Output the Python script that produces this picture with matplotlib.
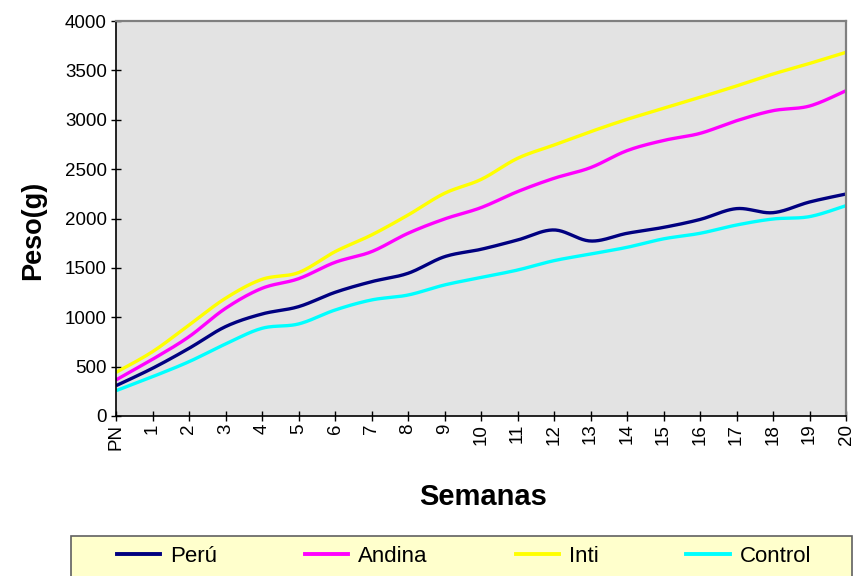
import numpy as np
import matplotlib
matplotlib.use("Agg")
import matplotlib.pyplot as plt
from matplotlib.lines import Line2D
from matplotlib.patches import Rectangle

plt.rcParams["font.family"] = ["Liberation Sans", "DejaVu Sans"]

# Weekly body weight (g) by group
semanas = ["PN"] + [str(i) for i in range(1, 21)]
peru = [307, 483, 685, 905, 1033, 1107, 1252, 1360, 1445, 1613, 1688,
        1782, 1884, 1772, 1850, 1910, 1990, 2100, 2059, 2167, 2248]
andina = [365, 574, 803, 1090, 1293, 1390, 1556, 1664, 1850, 1995, 2110,
          2272, 2407, 2515, 2687, 2790, 2862, 2990, 3092, 3139, 3294]
inti = [442, 651, 921, 1192, 1384, 1452, 1664, 1833, 2035, 2255, 2395,
        2609, 2744, 2879, 3004, 3115, 3227, 3342, 3463, 3570, 3683]
control = [256, 398, 550, 729, 888, 932, 1073, 1175, 1225, 1327, 1403,
           1478, 1573, 1640, 1708, 1794, 1850, 1934, 1995, 2019, 2130]

series = [("Perú", peru, "#000080"),
          ("Andina", andina, "#ff00ff"),
          ("Inti", inti, "#ffff00"),
          ("Control", control, "#00ffff")]


def smooth(x, y, n=24):
    """Catmull-Rom style smoothing through every data point."""
    x = np.asarray(x, float)
    y = np.asarray(y, float)
    px = np.concatenate([[x[0]], x, [x[-1]]])
    py = np.concatenate([[y[0]], y, [y[-1]]])
    t = np.linspace(0, 1, n)
    xs, ys = [], []
    for i in range(1, len(px) - 2):
        p0, p1, p2, p3 = (np.array([px[j], py[j]]) for j in (i - 1, i, i + 1, i + 2))
        c1 = p1 + (p2 - p0) / 6.0
        c2 = p2 - (p3 - p1) / 6.0
        b = ((1 - t) ** 3)[:, None] * p1 + (3 * (1 - t) ** 2 * t)[:, None] * c1 \
            + (3 * (1 - t) * t ** 2)[:, None] * c2 + (t ** 3)[:, None] * p2
        xs.append(b[:, 0])
        ys.append(b[:, 1])
    return np.concatenate(xs), np.concatenate(ys)


fig = plt.figure(figsize=(8.55, 5.76), dpi=100)
ax = fig.add_axes([116 / 855, 160 / 576, 730 / 855, 395 / 576])
ax.set_facecolor("#e3e3e3")

x = np.arange(len(semanas))
handles = []
for name, vals, col in series:
    sx, sy = smooth(x, vals)
    ax.plot(sx, sy, color=col, lw=2.4, solid_capstyle="butt")
    handles.append(Line2D([0], [0], color=col, lw=2.8, label=name))

ax.set_xlim(0, len(semanas) - 1)
ax.set_ylim(0, 4000)
ax.set_yticks(np.arange(0, 4001, 500))
ax.set_xticks(x)
ax.set_xticklabels(semanas, rotation=90, va="top", ha="center")
ax.tick_params(axis="both", direction="inout", length=7, width=1,
               color="black", labelsize=13.5, pad=2)
ax.tick_params(axis="y", pad=3)

for s in ("left", "bottom"):
    ax.spines[s].set_color("black")
    ax.spines[s].set_linewidth(1.2)
for s in ("top", "right"):
    ax.spines[s].set_color("#808080")
    ax.spines[s].set_linewidth(1.6)

ax.set_xlabel("Semanas", fontsize=21, fontweight="bold")
ax.xaxis.label.set_va("center")
ax.xaxis.set_label_coords(0.503, -0.205)
ax.set_ylabel("Peso(g)", fontsize=19.5, fontweight="bold")
ax.yaxis.label.set_va("center")
ax.yaxis.set_label_coords(-0.113, 0.47)

# Legend box along the bottom edge
fig.patches.append(Rectangle((71 / 855, -0.01), 781 / 855, 40 / 576 + 0.01,
                             transform=fig.transFigure, facecolor="#ffffcc",
                             edgecolor="#606060", lw=1.2))
fig.legend(handles=handles, loc="center", ncol=4, frameon=False,
           bbox_to_anchor=(464 / 855, 1 - 556 / 576), fontsize=16,
           handlelength=1.95, handletextpad=0.45, columnspacing=3.95)

fig.savefig("out.png", dpi=100)
